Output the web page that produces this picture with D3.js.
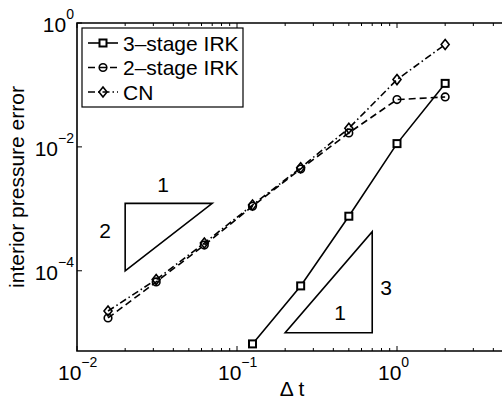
<!DOCTYPE html>
<meta charset="utf-8">
<style>
body { margin: 0; background: #fff; }
text { font-family: "Liberation Sans", Arial, sans-serif; fill: #000; }
.series path { fill: none; stroke: #000; stroke-width: 1.6px; }
</style>
<svg width="502" height="401"></svg>
<script src="https://cdn.jsdelivr.net/npm/d3@7"></script>
<script>

// step sizes and errors
var dt3 = [0.125, 0.25, 0.5, 1, 2];
var irk3 = [6.6e-6, 5.7e-5, 7.6e-4, 0.0113, 0.106];
var dt = [1/64, 1/32, 1/16, 1/8, 1/4, 1/2, 1, 2];
var irk2 = [1.73e-5, 6.6e-5, 2.6e-4, 1.1e-3, 4.4e-3, 0.0168, 0.058, 0.064];
var cn = [2.24e-5, 7.2e-5, 2.8e-4, 1.15e-3, 4.6e-3, 0.020, 0.122, 0.45];

// slope triangles [x0, x1, yLow]
var tri2 = [0.02, 0.07, 1e-4];
var tri3 = [0.2, 0.7, 1e-5];

var xTicks = [1e-2, 1e-1, 1e0];
var xTickLabels = ["\u22122", "\u22121", "0"];
var yTicks = [1e0, 1e-2, 1e-4];
var yTickLabels = ["0", "\u22122", "\u22124"];

var svg = d3.select("svg");
var mLeft = 77, mTop = 23, mBottom = 351, mRight = 557;

var x = d3.scaleLog().domain([1e-2, 1e1]).range([mLeft, mRight]);
var y = d3.scaleLog().domain([Math.pow(10, -5.295), 1]).range([mBottom, mTop]);

// axes box (right edge falls outside the picture)
svg.append("path")
    .attr("d", "M" + mRight + "," + mTop + "H" + mLeft + "V" + mBottom + "H" + mRight)
    .attr("fill", "none").attr("stroke", "#000").attr("stroke-width", 1.6);

// x ticks, major and minor, bottom and top
var xMinor = [];
for (var e = -2; e < 1; e++) for (var m = 2; m <= 9; m++) xMinor.push(m * Math.pow(10, e));
var g = svg.append("g").attr("stroke", "#000").attr("stroke-width", 1);
xMinor.forEach(function(v) {
  g.append("line").attr("x1", x(v)).attr("x2", x(v)).attr("y1", mBottom).attr("y2", mBottom - 3);
  g.append("line").attr("x1", x(v)).attr("x2", x(v)).attr("y1", mTop).attr("y2", mTop + 3);
});
xTicks.forEach(function(v) {
  g.append("line").attr("x1", x(v)).attr("x2", x(v)).attr("y1", mBottom).attr("y2", mBottom - 5);
  g.append("line").attr("x1", x(v)).attr("x2", x(v)).attr("y1", mTop).attr("y2", mTop + 5);
});
yTicks.forEach(function(v) {
  g.append("line").attr("x1", mLeft).attr("x2", mLeft + 5).attr("y1", y(v)).attr("y2", y(v));
});

// tick labels
xTicks.forEach(function(v, i) {
  var t = svg.append("text").attr("x", x(v) - 19).attr("y", 380).style("font-size", "21px");
  t.append("tspan").text("10");
  t.append("tspan").attr("dy", -13).style("font-size", "14px").text(xTickLabels[i]);
});
yTicks.forEach(function(v, i) {
  var t = svg.append("text").attr("x", mLeft - 3).attr("y", y(v) + 9)
      .attr("text-anchor", "end").style("font-size", "21px");
  t.append("tspan").text("10");
  t.append("tspan").attr("dy", -13).style("font-size", "14px").text(yTickLabels[i]);
});

// axis labels
svg.append("text").attr("x", 292).attr("y", 396).attr("text-anchor", "middle")
    .style("font-size", "21px").text("\u0394 t");
svg.append("text").attr("transform", "translate(24," + ((mTop + mBottom) / 2) + ") rotate(-90)")
    .attr("text-anchor", "middle").style("font-size", "21px").text("interior pressure error");

// series
var line = d3.line().x(function(d) { return x(d[0]); }).y(function(d) { return y(d[1]); });
var series = [
  { name: "3\u2013stage IRK", xs: dt3, ys: irk3, dash: null, marker: "square" },
  { name: "2\u2013stage IRK", xs: dt, ys: irk2, dash: "7,4", marker: "circle" },
  { name: "CN", xs: dt, ys: cn, dash: "7,3,1.5,3", marker: "diamond" }
];

function marker(sel, type, cx, cy) {
  if (type === "square") {
    sel.append("rect").attr("x", cx - 3.5).attr("y", cy - 3.5).attr("width", 7).attr("height", 7)
        .attr("fill", "#fff").attr("stroke", "#000").attr("stroke-width", 2);
  } else if (type === "circle") {
    sel.append("circle").attr("cx", cx).attr("cy", cy).attr("r", 3.8)
        .attr("fill", "none").attr("stroke", "#000").attr("stroke-width", 1.6);
  } else {
    sel.append("path").attr("d", "M" + cx + "," + (cy - 5) + "L" + (cx + 4) + "," + cy +
        "L" + cx + "," + (cy + 5) + "L" + (cx - 4) + "," + cy + "Z")
        .attr("fill", "none").attr("stroke", "#000").attr("stroke-width", 1.6);
  }
}

series.forEach(function(s) {
  var pts = s.xs.map(function(v, i) { return [v, s.ys[i]]; });
  var gs = svg.append("g").attr("class", "series");
  gs.append("path").attr("d", line(pts)).attr("stroke-dasharray", s.dash);
  pts.forEach(function(p) { marker(gs, s.marker, x(p[0]), y(p[1])); });
});

// slope triangles
var tg = svg.append("g").attr("fill", "none").attr("stroke", "#000").attr("stroke-width", 1.6);
var y2hi = tri2[2] * Math.pow(tri2[1] / tri2[0], 2);
tg.append("path").attr("d", "M" + x(tri2[0]) + "," + y(tri2[2]) + "L" + x(tri2[0]) + "," + y(y2hi) +
    "L" + x(tri2[1]) + "," + y(y2hi) + "Z");
var y3hi = tri3[2] * Math.pow(tri3[1] / tri3[0], 3);
tg.append("path").attr("d", "M" + x(tri3[0]) + "," + y(tri3[2]) + "L" + x(tri3[1]) + "," + y(tri3[2]) +
    "L" + x(tri3[1]) + "," + y(y3hi) + "Z");

svg.append("text").attr("x", 163).attr("y", 192).attr("text-anchor", "middle").style("font-size", "21px").text("1");
svg.append("text").attr("x", 105).attr("y", 238).attr("text-anchor", "middle").style("font-size", "21px").text("2");
svg.append("text").attr("x", 340).attr("y", 320).attr("text-anchor", "middle").style("font-size", "21px").text("1");
svg.append("text").attr("x", 386).attr("y", 295).attr("text-anchor", "middle").style("font-size", "21px").text("3");

// legend
var lg = svg.append("g");
lg.append("rect").attr("x", 82).attr("y", 28).attr("width", 161).attr("height", 79)
    .attr("fill", "#fff").attr("stroke", "#000").attr("stroke-width", 1.2);
series.forEach(function(s, i) {
  var ry = 43 + i * 24.5;
  var gl = lg.append("g").attr("class", "series");
  gl.append("path").attr("d", "M88," + ry + "H118").attr("stroke-dasharray", s.dash);
  marker(gl, s.marker, 103, ry);
  lg.append("text").attr("x", 123).attr("y", ry + 7.5).style("font-size", "21px").text(s.name);
});

</script>
